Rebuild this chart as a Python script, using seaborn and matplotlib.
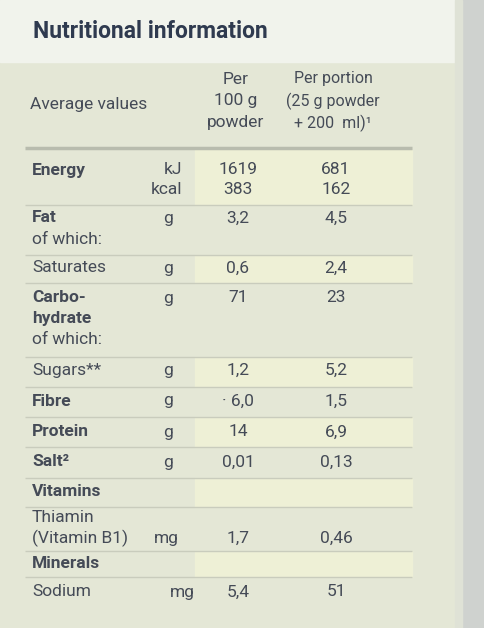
import matplotlib
matplotlib.use("Agg")
import matplotlib.pyplot as plt
import seaborn as sns

sns.set_theme(style="white")
plt.rcParams['font.family'] = ['Roboto', 'DejaVu Sans']

labels = ["Energy", "", "Fat", "of which:", "Saturates", "Carbo-", "hydrate", "of which:",
          "Sugars**", "Fibre", "Protein", "Salt²", "Vitamins", "Thiamin", "(Vitamin B1)", "Minerals", "Sodium"]
units = ["kJ", "kcal", "g", "", "g", "g", "", "", "g", "g", "g", "g", "", "", "mg", "", "mg"]
per100 = ["1619", "383", "3,2", "", "0,6", "71", "", "", "1,2", "· 6,0", "14", "0,01", "", "", "1,7", "", "5,4"]
portion = ["681", "162", "4,5", "", "2,4", "23", "", "", "5,2", "1,5", "6,9", "0,13", "", "", "0,46", "", "51"]
row_y = [170, 190, 218, 239, 268, 298, 319, 340, 370, 401, 432, 462, 492, 518, 538, 563, 592]
bold = {"Energy", "Fat", "Carbo-", "hydrate", "Fibre", "Protein", "Salt²", "Vitamins", "Minerals"}
lines = [205, 255, 283, 357, 387, 417, 447, 478, 507, 551, 577]
bands = [(150, 205), (255, 283), (357, 387), (417, 447), (478, 507), (551, 577)]

fig = plt.figure(figsize=(4.85, 6.28), dpi=100)
ax = fig.add_axes([0, 0, 1, 1])
ax.set_xlim(0, 485); ax.set_ylim(628, 0); ax.axis("off")
fig.patch.set_facecolor("#e4e7d6")
ax.axhspan(0, 62, xmin=0, xmax=462/485, color="#f1f3ec")
ax.axvspan(462, 485, color="#cfd2cf")
ax.axvspan(455, 462, color="#dfe2d6")
for a, b in bands:
    ax.axhspan(a, b, xmin=195/485, xmax=412/485, color="#eef0d6")
ax.hlines(148, 25, 412, color="#b8bcae", lw=2.5)
ax.hlines(lines, 25, 412, color="#c9ccbd", lw=1)

c = "#454b57"
fs = 12.5
ax.text(33, 32, "Nutritional information", fontsize=16.5, weight="bold", color="#2f3a4f", va="center")
ax.text(30, 104, "Average values", fontsize=fs, color=c, va="center")
for i, t in enumerate(["Per", "100 g", "powder"]):
    ax.text(236, 79 + 22 * i, t, fontsize=fs, color=c, ha="center", va="center")
for i, t in enumerate(["Per portion", "(25 g powder", "+ 200  ml)¹"]):
    ax.text(333, 79 + 22 * i, t, fontsize=11.5, color=c, ha="center", va="center")
for lab, u, p, q, y in zip(labels, units, per100, portion, row_y):
    ax.text(32, y, lab, fontsize=fs, color=c, va="center",
            weight="bold" if lab in bold else "normal")
    ux = 182 if u in ("kJ", "kcal", "mg") else 168
    if lab == "(Vitamin B1)":
        ux = 166
    ax.text(ux, y, u, fontsize=fs, color=c, va="center", ha="right" if u in ("kJ", "kcal") else "center")
    ax.text(238, y, p, fontsize=fs, color=c, va="center", ha="center")
    ax.text(336, y, q, fontsize=fs, color=c, va="center", ha="center")
fig.savefig("out.png", dpi=100, facecolor=fig.get_facecolor())
